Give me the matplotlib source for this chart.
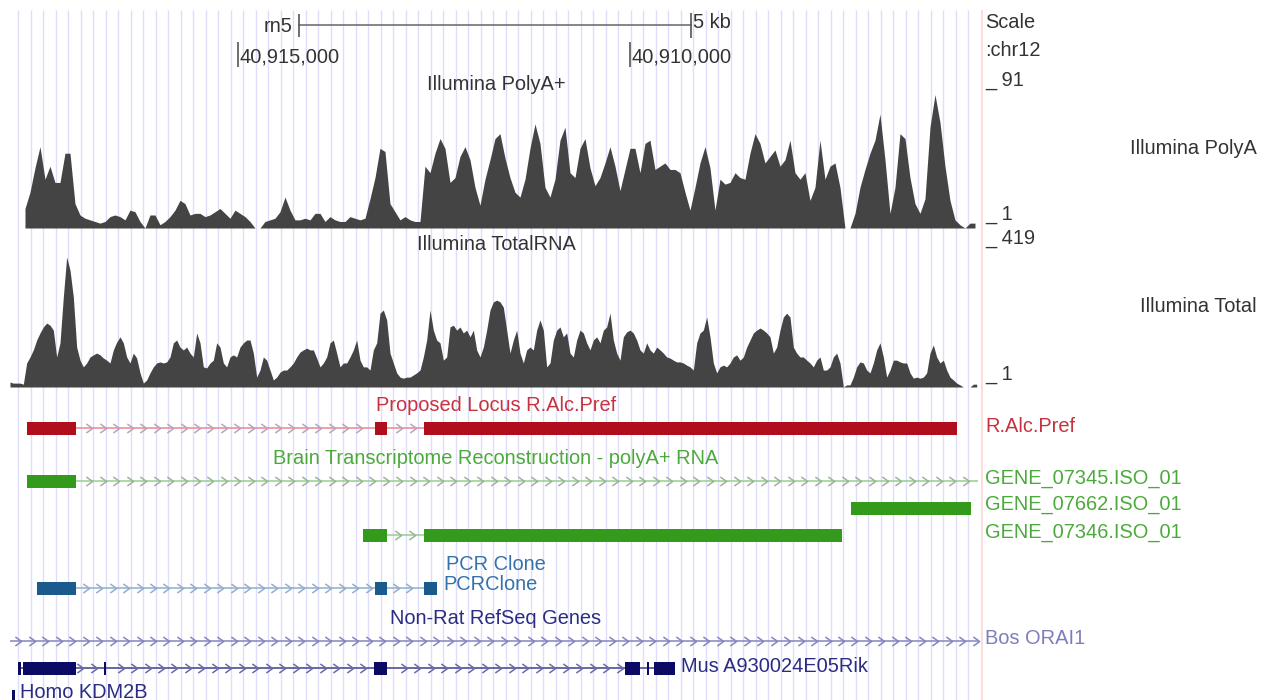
import matplotlib.pyplot as plt
from matplotlib.path import Path
import numpy as np

plt.rcParams['font.family'] = ['Liberation Sans', 'DejaVu Sans']

W, H = 1266, 700
FS = 14.4

# chr12 window, shown from high to low coordinate (left to right)
VIEW_LEFT = 40918034.5
VIEW_RIGHT = 40901893
DATA_LEFT = 40917907
DATA_RIGHT = 40905570
LABEL_EDGE = 40905514

SCALE_START = 40914222
SCALE_LEN = 5000
POS_TICKS = [40915000, 40910000]
POS_LABELS = ['40,915,000', '40,910,000']

# fixedStep coverage, values listed from high to low coordinate
POLYA_START = 40917716
POLYA_STEP = 63.75
POLYA_MAX = 91
polya = [12, 22, 37, 50, 30, 38, 28, 28, 46, 46,
         15, 8, 6, 5, 4, 3, 4, 7, 8, 7,
         5, 11, 10, 4, 0, 8, 8, 2, 4, 7,
         11, 17, 15, 8, 9, 9, 7, 8, 10, 12,
         9, 6, 11, 9, 7, 4, 0, 0, 4, 5,
         6, 10, 19, 11, 5, 5, 6, 5, 9, 9,
         4, 7, 5, 4, 4, 7, 6, 5, 6, 18,
         31, 49, 47, 15, 10, 5, 7, 5, 4, 4,
         38, 34, 46, 55, 49, 28, 31, 44, 50, 42,
         25, 14, 30, 42, 55, 58, 43, 31, 22, 19,
         30, 49, 64, 52, 25, 19, 30, 54, 62, 34,
         31, 49, 55, 37, 26, 31, 40, 50, 38, 23,
         36, 49, 49, 34, 52, 54, 36, 38, 40, 36,
         36, 34, 22, 11, 25, 40, 50, 37, 11, 30,
         27, 28, 34, 31, 30, 46, 58, 52, 40, 44,
         48, 38, 42, 54, 34, 30, 34, 17, 25, 54,
         30, 38, 40, 25, 0, 0, 9, 25, 36, 46,
         54, 70, 42, 9, 25, 58, 55, 31, 15, 9,
         18, 62, 82, 65, 38, 17, 5, 2, 0, 3,
         3]

TOTAL_START = 40917907
TOTAL_STEP = 42.5
TOTAL_MAX = 419
total = [14, 11, 11, 11, 8, 68, 85, 105, 133, 153,
         170, 181, 175, 161, 85, 125, 255, 368, 331, 255,
         113, 76, 57, 68, 85, 91, 96, 91, 82, 76,
         68, 105, 127, 142, 125, 85, 68, 96, 82, 40,
         11, 20, 40, 57, 68, 71, 68, 71, 85, 125,
         133, 113, 105, 113, 96, 85, 153, 125, 57, 54,
         68, 76, 125, 113, 68, 57, 85, 91, 85, 113,
         125, 133, 133, 96, 28, 48, 85, 76, 48, 20,
         28, 42, 48, 48, 57, 68, 85, 99, 105, 110,
         105, 105, 82, 57, 68, 85, 125, 133, 96, 57,
         68, 68, 85, 105, 133, 76, 57, 57, 48, 105,
         125, 209, 218, 190, 96, 68, 40, 28, 25, 28,
         28, 34, 40, 48, 85, 133, 218, 161, 133, 125,
         76, 85, 170, 175, 161, 170, 153, 161, 142, 161,
         105, 85, 113, 161, 218, 241, 246, 241, 226, 161,
         96, 133, 161, 96, 68, 105, 113, 105, 161, 190,
         161, 57, 68, 133, 161, 170, 142, 153, 96, 85,
         133, 161, 153, 125, 105, 133, 142, 125, 161, 170,
         209, 133, 96, 76, 142, 156, 161, 153, 133, 105,
         96, 125, 105, 96, 113, 105, 96, 85, 82, 76,
         71, 71, 68, 62, 57, 48, 125, 153, 161, 198,
         142, 68, 40, 57, 62, 57, 68, 85, 91, 76,
         85, 113, 133, 153, 161, 167, 161, 153, 142, 96,
         113, 161, 198, 209, 198, 113, 96, 85, 85, 76,
         68, 57, 76, 85, 48, 48, 57, 85, 96, 68,
         0, 6, 6, 28, 57, 71, 68, 48, 40, 68,
         105, 125, 85, 28, 48, 76, 76, 71, 68, 68,
         40, 25, 28, 25, 28, 40, 96, 119, 85, 68,
         76, 48, 28, 20, 11, 6, 0, 0, 0, 8,
         8]

# gene models: exons as (start, end), high -> low coordinate
r_alc_pref = [(40917690, 40917066), (40913253, 40913100), (40912628, 40905833)]
gene_07345 = [(40917690, 40917066)]
gene_07345_tx = (40917690, 40903000)
gene_07662 = [(40907184, 40905654)]
gene_07346 = [(40913406, 40913100), (40912628, 40907299)]
pcr_clone = [(40917563, 40917066), (40913253, 40913100), (40912628, 40912463)]
bos_orai1_tx = (40918600, 40903000)
mus_rik = [(40917805, 40917767), (40917741, 40917066), (40916709, 40916683),
           (40913266, 40913100), (40910066, 40909874), (40909785, 40909760),
           (40909696, 40909428)]
homo_kdm2b = [(40917881, 40917846)]

GRID_START = 40917801
GRID_STEP = 159.4
CHEV_STEP = 172
CHEVRON = Path([(-0.35, 0.5), (0.35, 0), (-0.35, -0.5)],
               [Path.MOVETO, Path.LINETO, Path.LINETO])

fig = plt.figure(figsize=(W / 100, H / 100), dpi=100)
ax = fig.add_axes([0, 0, 1, 1])
ax.set_xlim(VIEW_LEFT, VIEW_RIGHT)
ax.set_ylim(H, 0)
ax.set_axis_off()


def put(x, y, s, **kw):
    kw.setdefault('fontsize', FS)
    kw.setdefault('va', 'center')
    kw.setdefault('color', '#333333')
    fig.text(x / W, 1 - y / H, s, **kw)


def wiggle_axes(base_px, height_px, top):
    a = fig.add_axes([0, 1 - base_px / H, 1, height_px / H], sharex=ax)
    a.set_ylim(0, top)
    a.set_axis_off()
    a.patch.set_alpha(0)
    return a


def draw_gene(y, exons, color, line_color, chev_color, tx=None, height=13):
    if tx is None and exons:
        tx = (exons[0][0], exons[-1][1])
    if tx is not None:
        left = min(tx[0], DATA_LEFT)
        right = max(tx[1], DATA_RIGHT)
        ax.plot([left, right], [y, y], color=line_color, lw=1.1, zorder=3,
                solid_capstyle='butt')
        marks = np.arange(left - CHEV_STEP * 0.6, right, -CHEV_STEP)
        keep = [m for m in marks
                if not any(e - 45 <= m <= s + 45 for s, e in exons)]
        ax.plot(keep, [y] * len(keep), ls='none', marker=CHEVRON, ms=6.5,
                mec=chev_color, mfc='none', mew=1.1, zorder=3)
    for s, e in exons:
        ax.barh(y, e - s, left=s, height=height, color=color, lw=0, zorder=4)


# guide lines
grid = np.arange(GRID_START, DATA_RIGHT, -GRID_STEP)
ax.vlines(grid, 10, H, color='#dedefa', lw=1.0, zorder=1)
ax.vlines(LABEL_EDGE, 10, H, color='#ffd6d6', lw=1.2, zorder=1)

# scale bar and position ticks
ax.plot([SCALE_START, SCALE_START - SCALE_LEN], [25, 25], color='#666666', lw=1.1)
ax.vlines([SCALE_START, SCALE_START - SCALE_LEN], [14, 13], [37, 38],
          color='#555555', lw=1.2)
ax.annotate('rn5', (SCALE_START, 26), xytext=(-5, 0), textcoords='offset points',
            ha='right', va='center', fontsize=FS, color='#333333')
ax.annotate('5 kb', (SCALE_START - SCALE_LEN, 23), xytext=(1.5, 0),
            textcoords='offset points', ha='left', va='center', fontsize=FS,
            color='#333333')
ax.vlines(POS_TICKS, 42, 67, color='#555555', lw=1.2)
for p, lab in zip(POS_TICKS, POS_LABELS):
    ax.annotate(lab, (p, 57), xytext=(1.2, 0), textcoords='offset points',
                ha='left', va='center', fontsize=FS, color='#333333')

# coverage tracks
ax1 = wiggle_axes(228, 148, POLYA_MAX)
x1 = POLYA_START - np.arange(len(polya)) * POLYA_STEP
ax1.fill_between(x1, polya, 0, color='#444444', lw=0)

ax2 = wiggle_axes(387, 148, TOTAL_MAX)
x2 = TOTAL_START - np.arange(len(total)) * TOTAL_STEP
ax2.fill_between(x2, total, 0, color='#444444', lw=0)

put(496, 85, 'Illumina PolyA+', ha='center')
put(496, 244, 'Illumina TotalRNA', ha='center')

# annotation tracks
draw_gene(428, r_alc_pref, '#b00d1d', '#e88890', '#b8a4bc')
put(496, 405, 'Proposed Locus R.Alc.Pref', ha='center', color='#c83240')

draw_gene(481, gene_07345, '#349a1c', '#96d088', '#9cb49c', tx=gene_07345_tx)
draw_gene(508, gene_07662, '#349a1c', '#96d088', '#9cb49c')
draw_gene(535, gene_07346, '#349a1c', '#96d088', '#9cb49c')
put(496, 458, 'Brain Transcriptome Reconstruction - polyA+ RNA', ha='center',
    color='#4caa3c')

draw_gene(588, pcr_clone, '#1b5a8c', '#8cb0d0', '#98acc8')
put(496, 565, 'PCR Clone', ha='center', color='#3572aa')
ax.annotate('PCRClone', (pcr_clone[-1][1], 585), xytext=(4.3, 0),
            textcoords='offset points', ha='left', va='center', fontsize=FS,
            color='#3572aa')

draw_gene(641, [], None, '#8585c0', '#8585c0', tx=bos_orai1_tx)
draw_gene(668, mus_rik, '#0b0b66', '#40408a', '#6a6aa8')
draw_gene(696, homo_kdm2b, '#0b0b66', '#40408a', '#6a6aa8')
put(496, 618, 'Non-Rat RefSeq Genes', ha='center', color='#2b2b85')
ax.annotate('Mus A930024E05Rik', (mus_rik[-1][1], 667), xytext=(4.5, 0),
            textcoords='offset points', ha='left', va='center', fontsize=FS,
            color='#2b2b85')
ax.annotate('Homo KDM2B', (homo_kdm2b[0][1], 693), xytext=(4, 0),
            textcoords='offset points', ha='left', va='center', fontsize=FS,
            color='#2b2b85')

# right-hand labels
put(985, 23, 'Scale')
put(985, 51, ':chr12')
put(985, 80, '_ 91')
put(1257, 149, 'Illumina PolyA', ha='right')
put(985, 214, '_ 1')
put(985, 239, '_ 419')
put(1257, 307, 'Illumina Total', ha='right')
put(985, 374, '_ 1')
put(985, 426, 'R.Alc.Pref', color='#c83240')
put(985, 479, 'GENE_07345.ISO_01', color='#4caa3c')
put(985, 505, 'GENE_07662.ISO_01', color='#4caa3c')
put(985, 532, 'GENE_07346.ISO_01', color='#4caa3c')
put(985, 639, 'Bos ORAI1', color='#7d7dbd')

fig.savefig('out.png', dpi=100)
